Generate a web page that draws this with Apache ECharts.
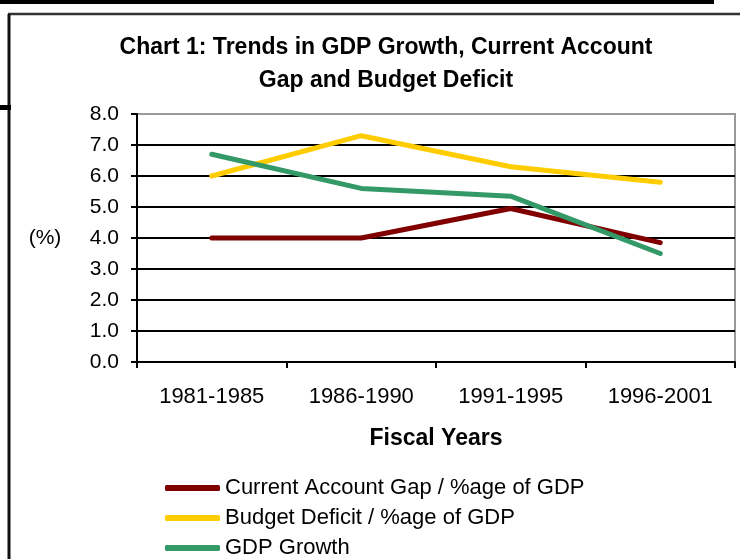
<!DOCTYPE html>
<html>
<head>
<meta charset="utf-8">
<title>Chart 1: Trends in GDP Growth, Current Account Gap and Budget Deficit</title>
<script src="https://cdn.jsdelivr.net/npm/echarts@6/dist/echarts.min.js"></script>
<style>
  html, body { margin: 0; padding: 0; background: #fff; }
  #chart { width: 740px; height: 559px; }
</style>
</head>
<body>
<div id="chart"></div>
<script>
  const fiscalYears = ["1981-1985", "1986-1990", "1991-1995", "1996-2001"];
  const currentAccountGap = [4.0, 4.0, 4.95, 3.85];
  const budgetDeficit = [6.0, 7.3, 6.3, 5.8];
  const gdpGrowth = [6.7, 5.6, 5.35, 3.5];

  const font = "'Liberation Sans', Arial, sans-serif";
  const chart = echarts.init(document.getElementById("chart"));

  // grid lines are black, the top one is the grey plot border
  const splitColors = ["#000", "#000", "#000", "#000", "#000", "#000", "#000", "#000", "#999"];

  chart.setOption({
    animation: false,
    textStyle: { fontFamily: font, color: "#000" },
    title: {
      text: "Chart 1: Trends in GDP Growth, Current Account\nGap and Budget Deficit",
      left: 381,
      top: 26,
      textAlign: "center",
      textStyle: {
        fontFamily: font,
        fontSize: 23,
        fontWeight: "bold",
        lineHeight: 33,
        color: "#000",
      },
    },
    // scan frame around the chart
    graphic: [
      { type: "rect", shape: { x: 0, y: 0, width: 714, height: 4 }, style: { fill: "#000" } },
      { type: "line", shape: { x1: 8, y1: 14, x2: 740, y2: 14 }, style: { stroke: "#333", lineWidth: 2.5 } },
      { type: "line", shape: { x1: 9, y1: 14, x2: 9, y2: 559 }, style: { stroke: "#111", lineWidth: 3 } },
      { type: "rect", shape: { x: 0, y: 105, width: 11, height: 5 }, style: { fill: "#000" } },
    ],
    legend: {
      orient: "vertical",
      left: 165,
      top: 477,
      padding: 0,
      itemWidth: 55,
      itemHeight: 6,
      itemGap: 8,
      icon: "roundRect",
      textStyle: { fontFamily: font, fontSize: 22, lineHeight: 22, color: "#000" },
      data: [
        "Current Account Gap / %age of GDP",
        "Budget Deficit / %age of GDP",
        "GDP Growth",
      ],
    },
    grid: {
      left: 137,
      right: 5,
      top: 114,
      bottom: 197,
      show: true,
      borderColor: "#999",
      borderWidth: 2,
    },
    xAxis: {
      type: "category",
      data: fiscalYears,
      boundaryGap: true,
      name: "Fiscal Years",
      nameLocation: "middle",
      nameGap: 65,
      nameTextStyle: { fontFamily: font, fontSize: 23, fontWeight: "bold", color: "#000" },
      axisLine: { lineStyle: { color: "#000", width: 2 } },
      axisTick: { show: true, length: 6, lineStyle: { color: "#000", width: 2 } },
      axisLabel: { fontFamily: font, fontSize: 22, color: "#000", margin: 24 },
      splitLine: { show: false },
    },
    yAxis: {
      type: "value",
      min: 0,
      max: 8,
      interval: 1,
      name: "(%)",
      nameLocation: "middle",
      nameRotate: 0,
      nameGap: 92,
      nameTextStyle: { fontFamily: font, fontSize: 21, color: "#000", align: "center" },
      axisLine: { show: true, lineStyle: { color: "#000", width: 2 } },
      axisTick: { show: true, length: 6, lineStyle: { color: "#000", width: 2 } },
      axisLabel: {
        fontFamily: font,
        fontSize: 21,
        color: "#000",
        margin: 18,
        formatter: (v) => v.toFixed(1),
      },
      splitLine: { show: true, lineStyle: { color: splitColors, width: 2 } },
    },
    series: [
      {
        name: "Current Account Gap / %age of GDP",
        type: "line",
        data: currentAccountGap,
        showSymbol: false,
        color: "#800000",
        lineStyle: { width: 5, color: "#800000", cap: "round", join: "round" },
      },
      {
        name: "Budget Deficit / %age of GDP",
        type: "line",
        data: budgetDeficit,
        showSymbol: false,
        color: "#FFCC00",
        lineStyle: { width: 5, color: "#FFCC00", cap: "round", join: "round" },
      },
      {
        name: "GDP Growth",
        type: "line",
        data: gdpGrowth,
        showSymbol: false,
        color: "#339966",
        lineStyle: { width: 5, color: "#339966", cap: "round", join: "round" },
      },
    ],
  });
</script>
</body>
</html>
